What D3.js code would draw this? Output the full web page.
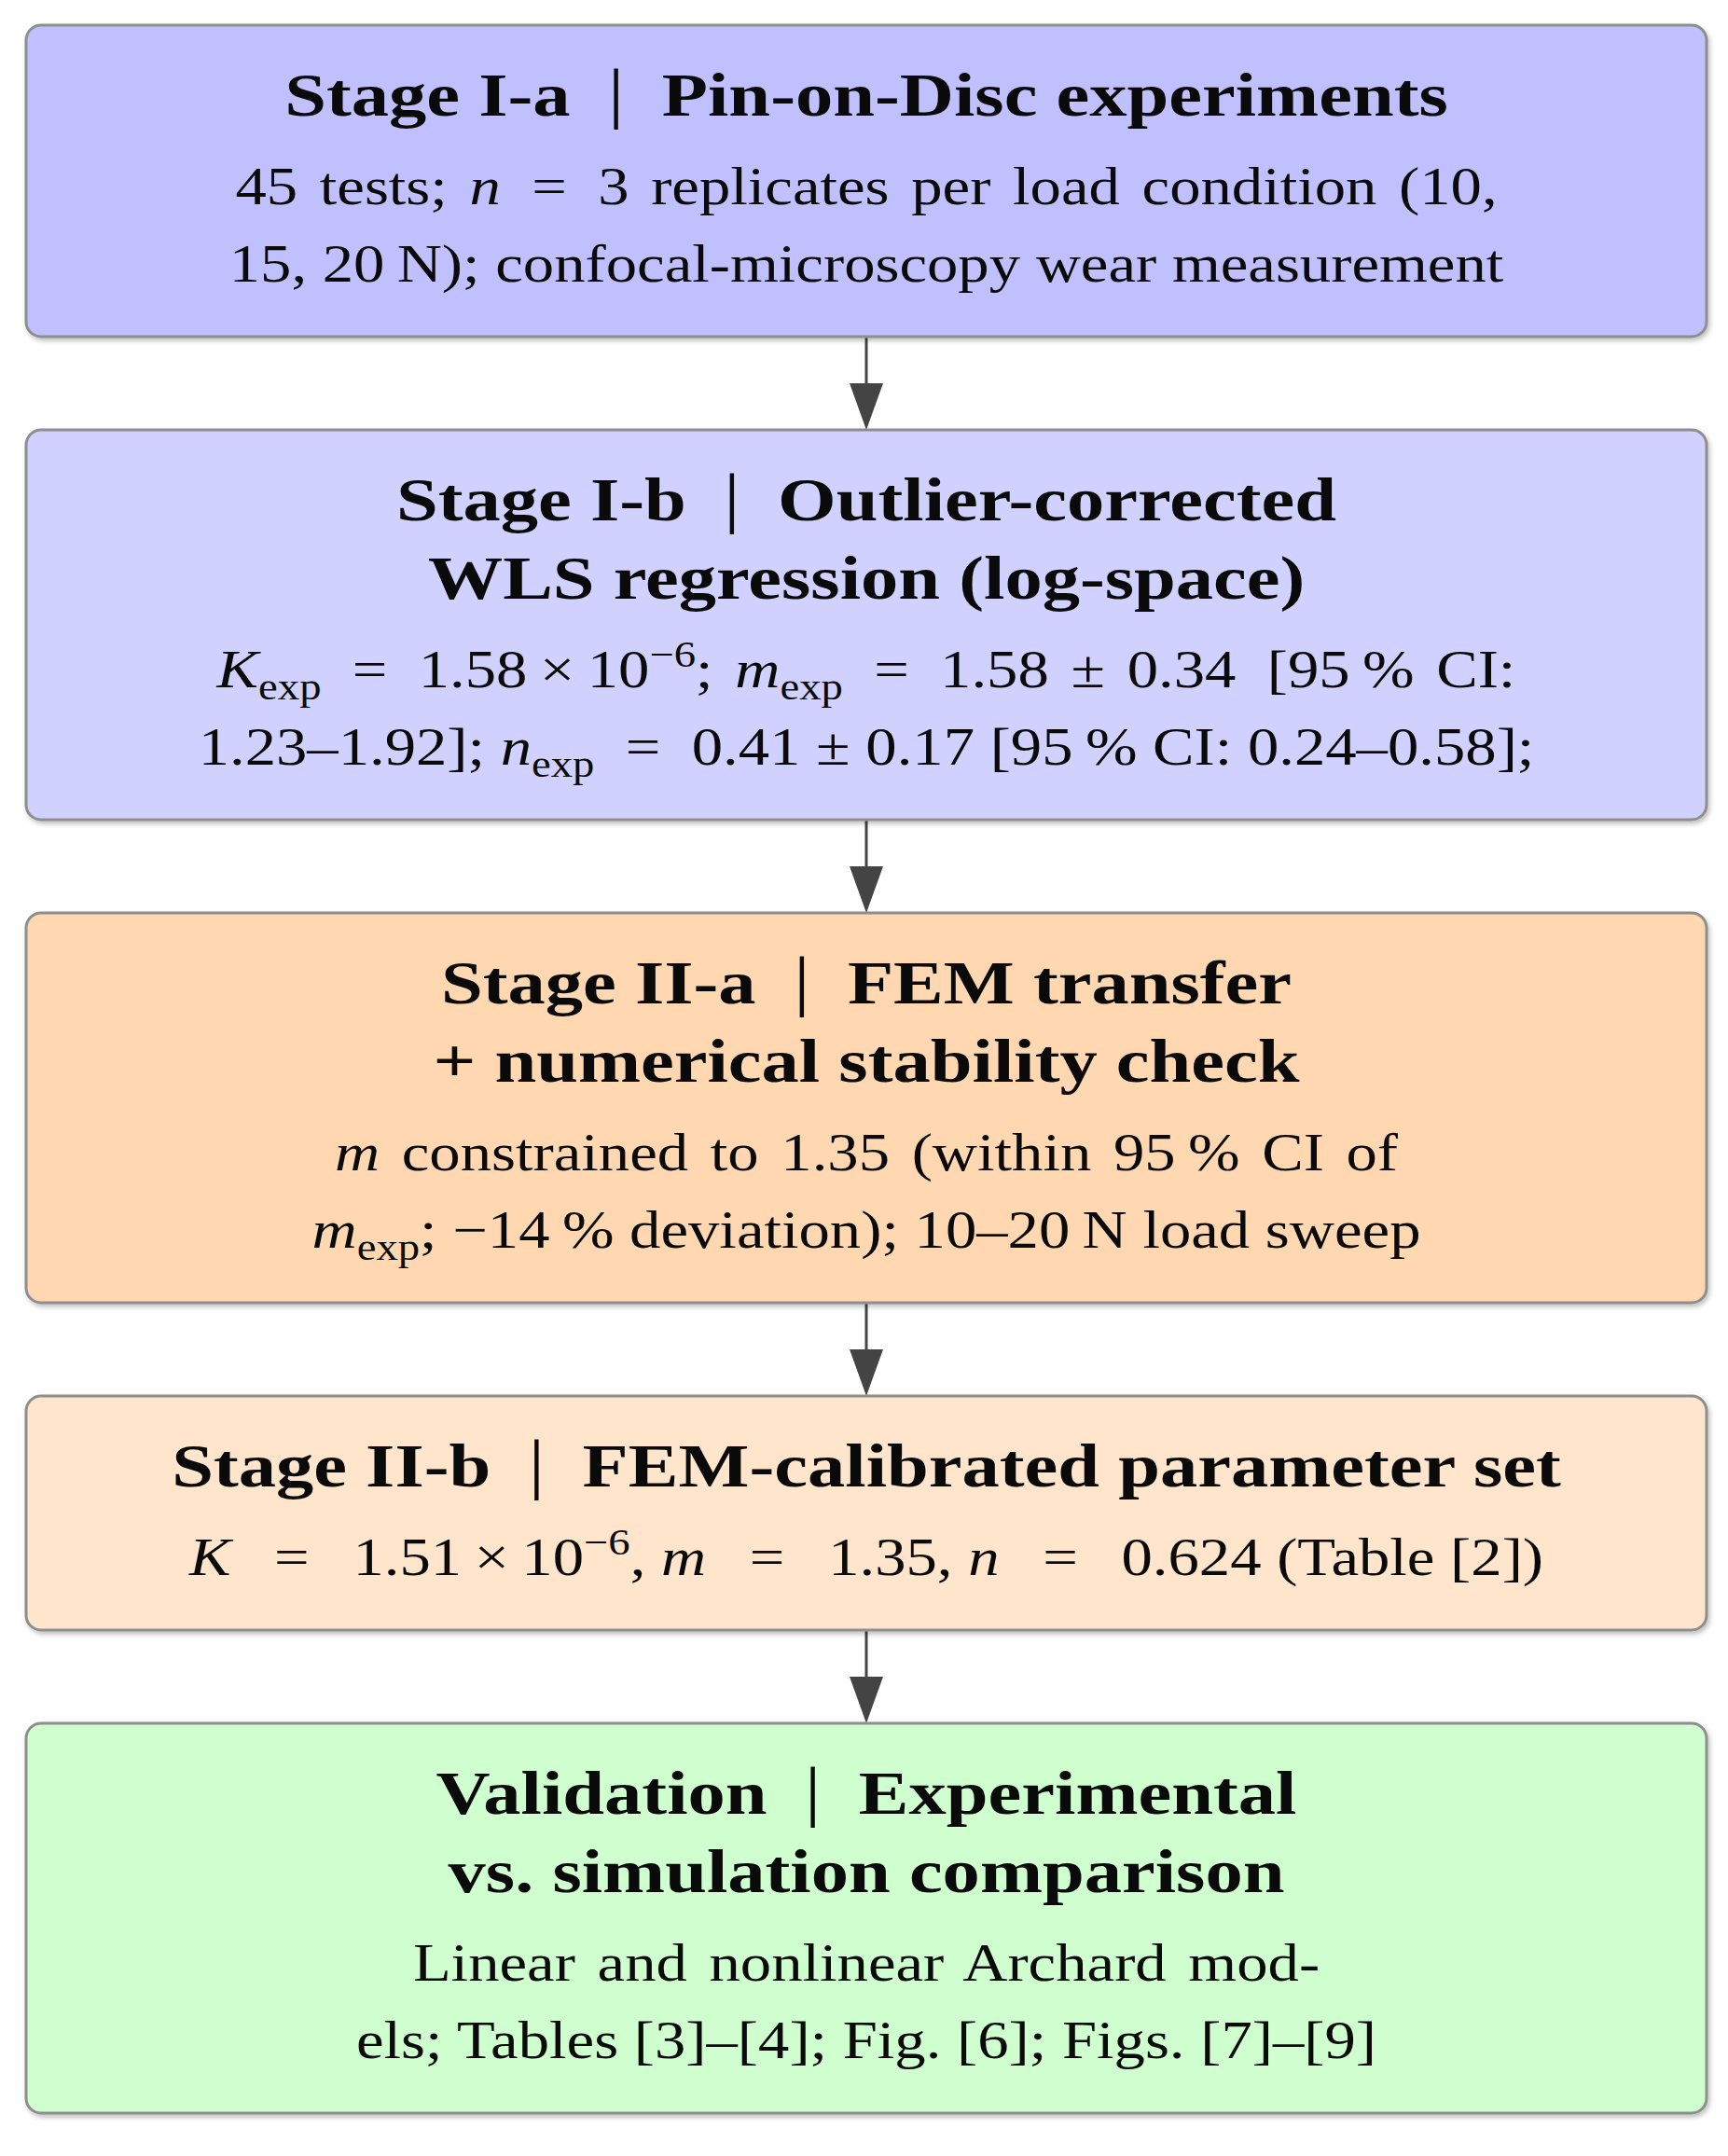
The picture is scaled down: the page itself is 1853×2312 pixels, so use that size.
<!DOCTYPE html>
<html>
<head>
<meta charset="utf-8">
<script src="https://cdn.jsdelivr.net/npm/d3@7"></script>
<style>
  html, body { margin: 0; padding: 0; background: #ffffff; }
  svg { display: block; }
  text { white-space: pre; }
</style>
</head>
<body>
<div id="chart"></div>
<script>
// Stufen des Ablaufs (von oben nach unten)
const stages = ["Stage I-a", "Stage I-b", "Stage II-a", "Stage II-b", "Validation"];

// Titel: [Stufe, Thema] je Zeile; erste Zeile mit Trennstrich
const titles = [
  [["Stage I-a", "Pin-on-Disc experiments"]],
  [["Stage I-b", "Outlier-corrected"], [null, "WLS regression (log-space)"]],
  [["Stage II-a", "FEM transfer"], [null, "+ numerical stability check"]],
  [["Stage II-b", "FEM-calibrated parameter set"]],
  [["Validation", "Experimental"], [null, "vs. simulation comparison"]]
];

// Textzeilen je Stufe: [Text, Art]  (r = normal, i = kursiv, sub, sup)
const bodies = [
  [
    [["45 tests; "], ["n", "i"], ["\u2002=\u20023 replicates per load condition (10,"]],
    [["15, 20\u2009N); confocal-microscopy wear measurement"]]
  ],
  [
    [["K", "i"], ["exp", "sub"], ["\u2002=\u20021.58\u2009×\u200910"], ["\u22126", "sup"], ["; "], ["m", "i"], ["exp", "sub"], ["\u2002=\u20021.58 ± 0.34\u2002[95\u2009% CI:"]],
    [["1.23–1.92]; "], ["n", "i"], ["exp", "sub"], ["\u2002=\u20020.41 ± 0.17 [95\u2009% CI: 0.24–0.58];"]]
  ],
  [
    [["m", "i"], [" constrained to 1.35 (within 95\u2009% CI of"]],
    [["m", "i"], ["exp", "sub"], ["; −14\u2009% deviation); 10–20\u2009N load sweep"]]
  ],
  [
    [["K", "i"], ["\u2002\u2009=\u2009\u20021.51\u2009×\u200910"], ["\u22126", "sup"], [", "], ["m", "i"], ["\u2002\u2009=\u2009\u20021.35, "], ["n", "i"], ["\u2002\u2009=\u2009\u20020.624 (Table [2])"]]
  ],
  [
    [["Linear and nonlinear Archard mod-"]],
    [["els; Tables [3]–[4]; Fig. [6]; Figs. [7]–[9]"]]
  ]
];

// Farben
const fillColors = ["#c0c0ff", "#d1d1ff", "#ffd8b1", "#ffe5cc", "#cfffcf"];

const width = 1853, height = 2312;
const boxLeft = 28, boxRight = 1830;
const cx = (boxLeft + boxRight) / 2;
const firstTop = 27, gap = 100;
const padTop = 97, titleStep = 84, titleToBody = 95, bodyStep = 83, padBottom = 59;

const titleSize = 66, titleStretch = 1.22;
const bodySize = 57, bodyStretch = 1.17, justifySpacing = 6;
const fontFamily = "'Liberation Serif', 'DejaVu Serif', serif";

const color = d3.scaleOrdinal().domain(stages).range(fillColors);

const svg = d3.select("#chart").append("svg")
  .attr("width", width)
  .attr("height", height)
  .attr("viewBox", `0 0 ${width} ${height}`);

// Schatten
const defs = svg.append("defs");
defs.append("filter")
  .attr("id", "shadow")
  .attr("x", "-5%").attr("y", "-5%").attr("width", "110%").attr("height", "110%")
  .append("feDropShadow")
  .attr("dx", 2).attr("dy", 3)
  .attr("stdDeviation", 2.5)
  .attr("flood-color", "#000")
  .attr("flood-opacity", 0.25);

// Layout berechnen
let y = firstTop;
const layout = stages.map((s, i) => {
  const top = y;
  const titleYs = titles[i].map((t, j) => top + padTop + j * titleStep);
  const bodyStart = titleYs[titleYs.length - 1] + titleToBody;
  const bodyYs = bodies[i].map((b, j) => bodyStart + j * bodyStep);
  const bottom = bodyYs[bodyYs.length - 1] + padBottom;
  y = bottom + gap;
  return { stage: s, top, bottom, titleYs, bodyYs, i };
});

// Pfeile
layout.slice(0, -1).forEach((d, k) => {
  const next = layout[k + 1];
  const headH = 50, headW = 36;
  svg.append("line")
    .attr("x1", cx).attr("x2", cx)
    .attr("y1", d.bottom).attr("y2", next.top - headH + 4)
    .attr("stroke", "#444")
    .attr("stroke-width", 3);
  svg.append("path")
    .attr("d", `M${cx - headW / 2},${next.top - headH} L${cx + headW / 2},${next.top - headH} L${cx},${next.top} Z`)
    .attr("fill", "#444");
});

// Kästen
const boxes = svg.selectAll(".stage")
  .data(layout)
  .enter()
  .append("g")
  .attr("class", "stage");

boxes.append("rect")
  .attr("x", boxLeft)
  .attr("y", d => d.top)
  .attr("width", boxRight - boxLeft)
  .attr("height", d => d.bottom - d.top)
  .attr("rx", 16)
  .attr("fill", d => color(d.stage))
  .attr("stroke", "#8e8e8e")
  .attr("stroke-width", 3)
  .attr("filter", "url(#shadow)");

boxes.each(function (d) {
  const g = d3.select(this);

  // Titel
  titles[d.i].forEach(([head, topic], j) => {
    const txt = g.append("text")
      .attr("transform", `translate(${cx},${d.titleYs[j]}) scale(${titleStretch},1)`)
      .attr("text-anchor", "middle")
      .style("font-family", fontFamily)
      .style("font-weight", "bold")
      .style("font-size", titleSize + "px")
      .attr("fill", "#0a0a0a");
    if (head) {
      txt.append("tspan").text(head + "\u2002");
      txt.append("tspan").style("font-weight", "normal").style("font-size", (titleSize * 1.1) + "px").text("|");
      txt.append("tspan").text("\u2002" + topic);
    } else {
      txt.append("tspan").text(topic);
    }
  });

  // Beschreibung
  const lines = bodies[d.i];
  lines.forEach((segs, j) => {
    const txt = g.append("text")
      .attr("transform", `translate(${cx},${d.bodyYs[j]}) scale(${bodyStretch},1)`)
      .attr("text-anchor", "middle")
      .style("font-family", fontFamily)
      .style("font-size", bodySize + "px")
      .style("word-spacing", (j < lines.length - 1 ? justifySpacing : 0) + "px")
      .attr("fill", "#0a0a0a");
    let shift = 0;
    segs.forEach(([str, kind]) => {
      const ts = txt.append("tspan").text(str);
      let target = 0;
      if (kind === "i") ts.style("font-style", "italic");
      if (kind === "sub") { ts.style("font-size", (bodySize * 0.7) + "px"); target = bodySize * 0.22; }
      if (kind === "sup") { ts.style("font-size", (bodySize * 0.7) + "px"); target = -bodySize * 0.38; }
      if (target !== shift) { ts.attr("dy", target - shift); shift = target; }
    });
  });
});
</script>
</body>
</html>
